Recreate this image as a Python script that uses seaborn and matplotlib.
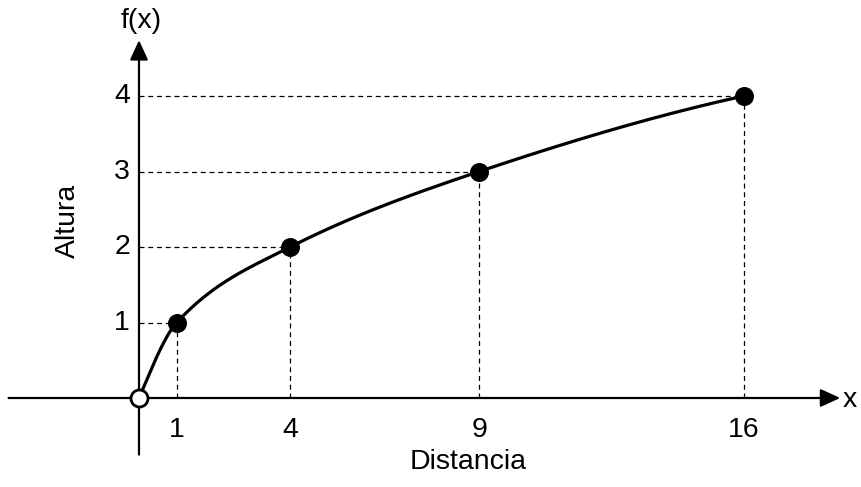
import numpy as np
import pandas as pd
import matplotlib
matplotlib.use("Agg")
import matplotlib.pyplot as plt
import seaborn as sns

# puntos marcados de la funcion (raiz cuadrada)
distancia = [0, 1, 4, 9, 16]
altura = [0, 1, 2, 3, 4]
ticks_x = [1, 4, 9, 16]
ticks_y = [1, 2, 3, 4]

sns.set_style("white")
plt.rcParams['font.family'] = ['Liberation Sans', 'DejaVu Sans']
plt.rcParams['text.color'] = 'black'


def curva_suave(x, y, n=60):
    # trazo suave (hermite monotono) entre los puntos marcados
    x = np.asarray(x, float)
    y = np.asarray(y, float)
    h = np.diff(x)
    d = np.diff(y) / h
    m = np.zeros_like(x)
    for k in range(1, len(x) - 1):
        w1 = 2 * h[k] + h[k - 1]
        w2 = h[k] + 2 * h[k - 1]
        m[k] = (w1 + w2) / (w1 / d[k - 1] + w2 / d[k])
    m[0] = ((2 * h[0] + h[1]) * d[0] - h[0] * d[1]) / (h[0] + h[1])
    m[-1] = ((2 * h[-1] + h[-2]) * d[-1] - h[-1] * d[-2]) / (h[-1] + h[-2])
    xs, ys = [], []
    for k in range(len(h)):
        t = np.linspace(0, 1, n)
        h00 = 2 * t**3 - 3 * t**2 + 1
        h10 = t**3 - 2 * t**2 + t
        h01 = -2 * t**3 + 3 * t**2
        h11 = t**3 - t**2
        xs.append(x[k] + t * h[k])
        ys.append(h00 * y[k] + h10 * h[k] * m[k] + h01 * y[k + 1] + h11 * h[k] * m[k + 1])
    return np.concatenate(xs), np.concatenate(ys)


fig = plt.figure(figsize=(8.61, 4.87), dpi=100)
ax = fig.add_axes([0, 0, 1, 1])
ax.set_xlim(-3.677, 19.1)
ax.set_ylim(-1.179, 5.272)
ax.axis('off')

# curva
cx, cy = curva_suave(distancia, altura)
curva = pd.DataFrame({'x': cx, 'y': cy})
sns.lineplot(data=curva, x='x', y='y', color='black', linewidth=2.3, ax=ax,
             sort=False, zorder=3)

# lineas guia punteadas
for xv, yv in zip(distancia[1:], altura[1:]):
    ax.plot([0, xv], [yv, yv], color='black', lw=0.9, ls=(0, (4, 3)), zorder=1)
    ax.plot([xv, xv], [0, yv], color='black', lw=0.9, ls=(0, (4, 3)), zorder=1)

# ejes con flechas
flecha = dict(arrowstyle='-|>,head_length=1.2,head_width=0.55',
              color='black', lw=1.6, shrinkA=0, shrinkB=0)
ax.annotate('', xy=(18.55, 0), xytext=(-3.45, 0), arrowprops=flecha, zorder=2)
ax.annotate('', xy=(0, 4.74), xytext=(0, -0.75), arrowprops=flecha, zorder=2)

# puntos
puntos = pd.DataFrame({'x': distancia[1:], 'y': altura[1:]})
sns.scatterplot(data=puntos, x='x', y='y', color='black', s=160, edgecolor='black',
                ax=ax, zorder=5)
ax.scatter([distancia[0]], [altura[0]], s=150, facecolor='white', edgecolor='black',
           linewidth=2, zorder=6)

# etiquetas
fs = 20.5
for t in ticks_x:
    ax.text(t, -0.517, str(t), ha='center', va='baseline', fontsize=fs)
for t in ticks_y:
    ax.text(-0.24, t, str(t), ha='right', va='center', fontsize=fs)

ax.text(0.05, 5.0, 'f(x)', ha='center', va='center', fontsize=fs)
ax.text(18.62, -0.02, 'x', ha='left', va='center', fontsize=fs)
ax.text(8.7, -0.94, 'Distancia', ha='center', va='baseline', fontsize=fs)
ax.text(-1.87, 2.35, 'Altura', ha='center', va='center', fontsize=fs, rotation=90)

fig.savefig('out.png', dpi=100)
